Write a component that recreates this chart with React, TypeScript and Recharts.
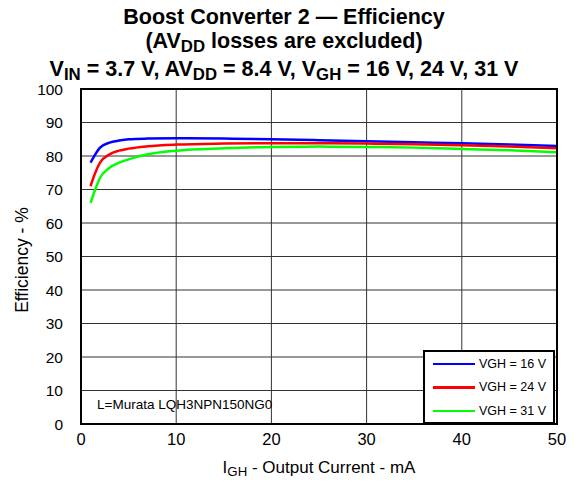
import { LineChart, Line, XAxis, YAxis, CartesianGrid } from 'recharts';

const current = [1, 1.5, 2, 3, 4, 5, 7, 10, 15, 20, 25, 30, 35, 40, 45, 50];
const vgh16 = [78, 80.5, 82.5, 84, 84.6, 85, 85.2, 85.3, 85.2, 85, 84.7, 84.4, 84.1, 83.8, 83.4, 83.0];
const vgh24 = [71, 75, 78, 80.5, 81.6, 82.2, 82.9, 83.4, 83.7, 83.8, 83.8, 83.7, 83.5, 83.2, 82.8, 82.3];
const vgh31 = [66, 70, 73.5, 76.5, 78, 79, 80.5, 81.6, 82.3, 82.7, 82.8, 82.7, 82.5, 82.1, 81.7, 81.1];

const xTicks = [0, 10, 20, 30, 40, 50];
const yTicks = [0, 10, 20, 30, 40, 50, 60, 70, 80, 90, 100];

const series = [
  { key: 'v16', name: 'VGH = 16 V', color: '#0000ff' },
  { key: 'v24', name: 'VGH = 24 V', color: '#ff0000' },
  { key: 'v31', name: 'VGH = 31 V', color: '#00ff00' },
];

const data = current.map((x, i) => ({ x, v16: vgh16[i], v24: vgh24[i], v31: vgh31[i] }));

const FONT = '"Liberation Sans", Arial, sans-serif';
const W = 574;
const H = 481;
const PLOT = { left: 81, top: 89, right: 557, bottom: 424 };

const sub = { fontSize: '0.78em', verticalAlign: '-0.25em' } as const;

function LegendBox() {
  return (
    <div style={{ position: 'absolute', left: 423, top: 350, width: 128, height: 70, border: '2px solid #000', background: '#fff', fontFamily: FONT, fontSize: 12.5, boxSizing: 'content-box' }}>
      {series.map(s => (
        <div key={s.key} style={{ display: 'flex', alignItems: 'center', height: 23.5, paddingLeft: 8 }}>
          <div style={{ width: 42, height: 2.5, background: s.color, marginRight: 4 }} />
          <span>{s.name}</span>
        </div>
      ))}
    </div>
  );
}

export default function App() {
  return (
    <div style={{ position: 'absolute', left: 0, top: 0, width: W, height: H, background: '#fff', fontFamily: FONT }}>
      <div style={{ position: 'absolute', left: 0, width: 568, top: 6, textAlign: 'center', fontWeight: 'bold', fontSize: 21.5, lineHeight: '23.5px', color: '#000', whiteSpace: 'nowrap' }}>
        <div>Boost Converter 2 — Efficiency</div>
        <div>(AV<span style={sub}>DD</span> losses are excluded)</div>
        <div>V<span style={sub}>IN</span> = 3.7 V, AV<span style={sub}>DD</span> = 8.4 V, V<span style={sub}>GH</span> = 16 V, 24 V, 31 V</div>
      </div>
      <LineChart width={W} height={H} data={data} margin={{ top: PLOT.top, right: W - PLOT.right, bottom: 0, left: 0 }}>
        <CartesianGrid stroke="#333" strokeWidth={1} />
        <XAxis
          dataKey="x"
          type="number"
          domain={[0, 50]}
          ticks={xTicks}
          height={H - PLOT.bottom}
          axisLine={false}
          tickLine={false}
          tick={{ fontSize: 16.5, fill: '#000', fontFamily: FONT }}
          tickMargin={3}
        />
        <YAxis
          type="number"
          domain={[0, 100]}
          ticks={yTicks}
          width={PLOT.left}
          axisLine={false}
          tickLine={false}
          tick={{ fontSize: 15.5, fill: '#000', fontFamily: FONT }}
          tickMargin={12}
        />
        {series.map(s => (
          <Line key={s.key} dataKey={s.key} name={s.name} stroke={s.color} strokeWidth={2.5} dot={false} type="monotone" isAnimationActive={false} />
        ))}
      </LineChart>
      <div style={{ position: 'absolute', left: PLOT.left - 1, top: PLOT.top - 1, width: PLOT.right - PLOT.left - 2, height: PLOT.bottom - PLOT.top - 2, border: '2px solid #000', pointerEvents: 'none', boxSizing: 'content-box' }} />
      <LegendBox />
      <div style={{ position: 'absolute', left: 97, top: 397, fontSize: 13.5, color: '#000' }}>L=Murata LQH3NPN150NG0</div>
      <div style={{ position: 'absolute', left: 81, width: 476, top: 458, textAlign: 'center', fontSize: 17, color: '#000' }}>
        I<span style={sub}>GH</span> - Output Current - mA
      </div>
      <div style={{ position: 'absolute', left: 22, top: 260, transform: 'translate(-50%, -50%) rotate(-90deg)', whiteSpace: 'nowrap', fontSize: 17.5, color: '#000' }}>
        Efficiency - %
      </div>
    </div>
  );
}
